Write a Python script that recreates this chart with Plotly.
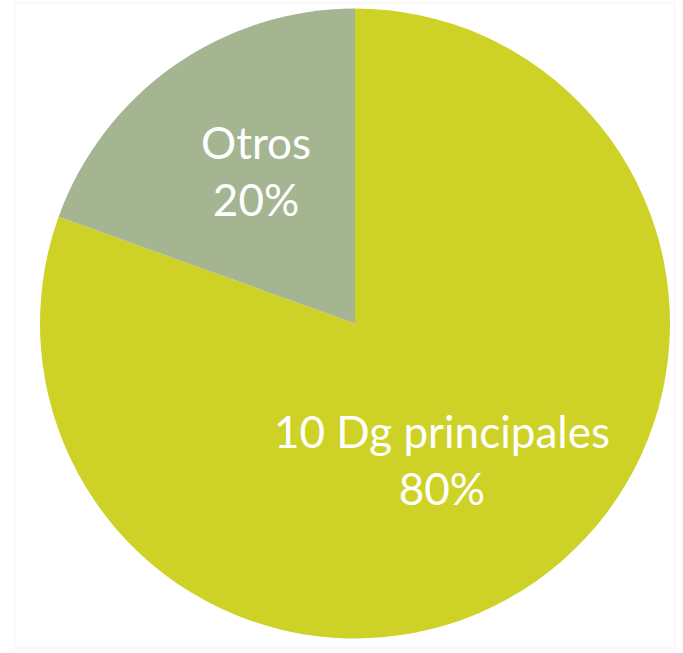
import plotly.graph_objects as go

labels = ["10 Dg principales", "Otros"]
values = [80.5, 19.5]
colors = ["#CED227", "#A5B491"]

W, H = 683, 653
cx, cy, r = 355, 323.5, 315

fig = go.Figure(go.Pie(
    labels=labels, values=values, sort=False, direction="clockwise", rotation=0,
    marker=dict(colors=colors, line=dict(width=0)),
    textinfo="none", hoverinfo="label+percent", showlegend=False,
    domain=dict(x=[(cx - r) / W, (cx + r) / W], y=[(H - cy - r) / H, (H - cy + r) / H]),
))

# label positions (paper coords) for each slice
label_pos = [(442 / W, 1 - 459 / H), (255.5 / W, 1 - 171 / H)]
total = sum(values)
for lab, val, (px, py) in zip(labels, values, label_pos):
    fig.add_annotation(x=px, y=py, xref="paper", yref="paper", showarrow=False,
                       xanchor="center", yanchor="middle",
                       text=f"{lab}<br>{val / total * 100:.0f}%",
                       font=dict(family="Lato", size=44, color="white"),
                       align="center")

fig.add_shape(type="rect", xref="paper", yref="paper", x0=15 / W, x1=675 / W, y0=1 - 648 / H, y1=1 - 3 / H,
              line=dict(color="#F3F3F3", width=1), layer="below")

fig.update_layout(width=W, height=H, margin=dict(l=0, r=0, t=0, b=0),
                  paper_bgcolor="white", plot_bgcolor="white")
fig.write_html("out.html", config={"displayModeBar": False},
               post_script="document.body.style.margin='0';")
